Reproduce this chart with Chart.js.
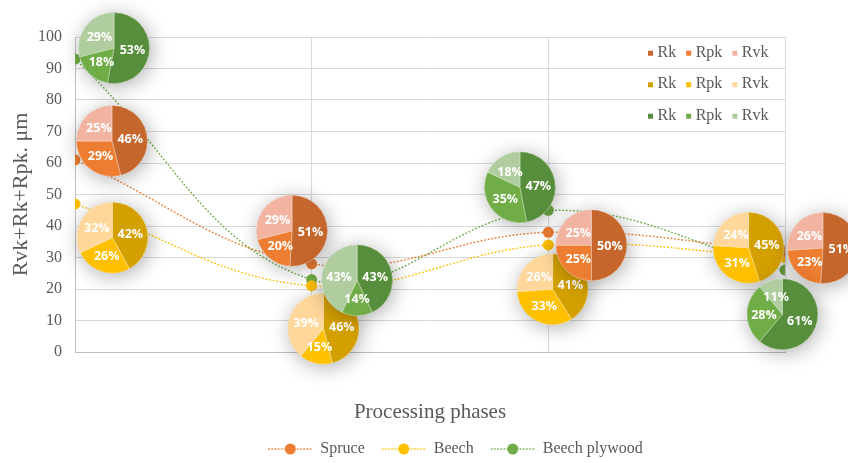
<!DOCTYPE html>
<html>
<head>
<meta charset="utf-8">
<script src="https://cdn.jsdelivr.net/npm/chart.js@4.4.0/dist/chart.umd.min.js"></script>
<style>
  html, body { margin: 0; padding: 0; background: #fff; }
</style>
</head>
<body>
<canvas id="roughnessChart" width="848" height="463"></canvas>
<script>
// Total roughness per processing phase
const phases = [0, 1, 2, 3];
const spruce = [61, 28, 38, 32];
const beech = [47, 21, 34, 30];
const plywood = [93, 23, 45, 26];

const yMin = 0;
const yMax = 100;
const yStep = 10;

// Share of each roughness component (Rk, Rpk, Rvk), % per phase
const parts = ['Rk', 'Rpk', 'Rvk'];
const sprucePies = [[46, 29, 25], [51, 20, 29], [50, 25, 25], [51, 23, 26]];
const beechPies = [[42, 26, 32], [46, 15, 39], [41, 33, 26], [45, 31, 24]];
const plywoodPies = [[53, 18, 29], [43, 14, 43], [47, 35, 18], [61, 28, 11]];

// where each pie sits, in axis units (phase, µm)
const sprucePieAt = [[0.156, 67.0], [0.917, 38.5], [2.182, 33.9], [3.160, 33.0]];
const beechPieAt = [[0.158, 36.3], [1.050, 7.4], [2.018, 19.9], [2.846, 33.1]];
const plywoodPieAt = [[0.165, 96.5], [1.192, 22.8], [1.880, 52.3], [2.989, 12.0]];

const serif = '"Liberation Serif", "Times New Roman", serif';
const textGrey = '#595959';
const pieRadius = 35.5;

const colors = {
  spruce: { line: '#ED7D31', parts: ['#C5662C', '#ED7D31', '#F2B4A0'] },
  beech: { line: '#FFC000', parts: ['#D4A000', '#FFC000', '#FFD79B'] },
  plywood: { line: '#70AD47', parts: ['#578E3B', '#70AD47', '#AFCD9F'] }
};

function toPoints(values) {
  return values.map((v, i) => ({ x: phases[i], y: v }));
}

// dotted line with a marker, used as the legend symbol
function legendSample(color) {
  const c = document.createElement('canvas');
  c.width = 44;
  c.height = 12;
  const g = c.getContext('2d');
  g.strokeStyle = color;
  g.lineWidth = 1.3;
  g.setLineDash([1.6, 1.6]);
  g.beginPath();
  g.moveTo(0, 6);
  g.lineTo(44, 6);
  g.stroke();
  g.setLineDash([]);
  g.fillStyle = color;
  g.beginPath();
  g.arc(22, 6, 5.5, 0, Math.PI * 2);
  g.fill();
  return c;
}

function seriesDataset(label, values, color) {
  return {
    label: label,
    data: toPoints(values),
    borderColor: color,
    backgroundColor: color,
    borderWidth: 1.4,
    borderDash: [1.8, 1.8],
    tension: 0.4,
    fill: false,
    pointRadius: 5.5,
    pointHoverRadius: 5.5,
    pointBorderWidth: 0,
    legendSymbol: legendSample(color)
  };
}

// beech first so spruce and plywood pies overlap it
const pieGroups = [
  { shares: beechPies, at: beechPieAt, colors: colors.beech.parts },
  { shares: sprucePies, at: sprucePieAt, colors: colors.spruce.parts },
  { shares: plywoodPies, at: plywoodPieAt, colors: colors.plywood.parts }
];

function drawPie(ctx, cx, cy, shares, fills) {
  ctx.save();
  ctx.shadowColor = 'rgba(0, 0, 0, 0.32)';
  ctx.shadowBlur = 20;
  ctx.shadowOffsetX = 2;
  ctx.shadowOffsetY = 3;
  ctx.fillStyle = fills[0];
  ctx.beginPath();
  ctx.arc(cx, cy, pieRadius, 0, Math.PI * 2);
  ctx.fill();
  ctx.restore();

  let start = -Math.PI / 2;
  const mids = [];
  shares.forEach((share, k) => {
    const end = start + share / 100 * Math.PI * 2;
    ctx.beginPath();
    ctx.moveTo(cx, cy);
    ctx.arc(cx, cy, pieRadius, start, end);
    ctx.closePath();
    ctx.fillStyle = fills[k];
    ctx.fill();
    ctx.strokeStyle = 'rgba(255, 255, 255, 0.45)';
    ctx.lineWidth = 0.8;
    ctx.stroke();
    mids.push((start + end) / 2);
    start = end;
  });

  ctx.save();
  ctx.fillStyle = '#fff';
  ctx.font = '700 12.5px "Open Sans", "Liberation Sans", sans-serif';
  ctx.textAlign = 'center';
  ctx.textBaseline = 'middle';
  shares.forEach((share, k) => {
    const lr = pieRadius * 0.52;
    ctx.fillText(share + '%', cx + Math.cos(mids[k]) * lr, cy + Math.sin(mids[k]) * lr + 1);
  });
  ctx.restore();
}

const piePlugin = {
  id: 'roughnessPies',
  afterLayout(chart) {
    // series legend sits right of the plot centre
    chart.legend.left += 63;
    chart.legend.right += 63;
  },
  afterDatasetsDraw(chart) {
    const { ctx, scales: { x, y } } = chart;
    pieGroups.forEach(group => {
      group.shares.forEach((shares, i) => {
        const cx = x.getPixelForValue(group.at[i][0]);
        const cy = y.getPixelForValue(group.at[i][1]);
        drawPie(ctx, cx, cy, shares, group.colors);
      });
    });
  },
  afterDraw(chart) {
    // component legend, one row per wood type, between the top gridlines
    const { ctx, chartArea, scales: { y } } = chart;
    const rows = [colors.spruce.parts, colors.beech.parts, colors.plywood.parts];
    ctx.save();
    ctx.font = '16px ' + serif;
    ctx.textBaseline = 'middle';
    rows.forEach((fills, r) => {
      const rowY = y.getPixelForValue(yMax - yStep / 2 - r * yStep);
      let cursor = chartArea.right - 137;
      parts.forEach((name, k) => {
        ctx.fillStyle = fills[k];
        ctx.fillRect(cursor, rowY - 2, 5, 5);
        cursor += 9.5;
        ctx.fillStyle = textGrey;
        ctx.fillText(name, cursor, rowY);
        cursor += ctx.measureText(name).width + 10;
      });
    });
    ctx.restore();
  }
};

const ctx = document.getElementById('roughnessChart').getContext('2d');

new Chart(ctx, {
  type: 'line',
  data: {
    datasets: [
      seriesDataset('Spruce', spruce, colors.spruce.line),
      seriesDataset('Beech', beech, colors.beech.line),
      seriesDataset('Beech plywood', plywood, colors.plywood.line)
    ]
  },
  options: {
    responsive: false,
    animation: false,
    events: [],
    layout: {
      padding: { left: 0, right: 63, top: 37, bottom: -4 }
    },
    plugins: {
      tooltip: { enabled: false },
      legend: {
        position: 'bottom',
        labels: {
          usePointStyle: true,
          pointStyleWidth: 44,
          padding: 17,
          color: textGrey,
          font: { family: serif, size: 16 },
          generateLabels(chart) {
            return Chart.defaults.plugins.legend.labels.generateLabels(chart).map(item => {
              item.pointStyle = chart.data.datasets[item.datasetIndex].legendSymbol;
              return item;
            });
          }
        }
      }
    },
    scales: {
      x: {
        type: 'linear',
        min: phases[0],
        max: phases[phases.length - 1],
        ticks: { display: false, stepSize: 1 },
        grid: { color: '#D9D9D9', drawTicks: false },
        border: { color: '#BFBFBF' },
        title: {
          display: true,
          text: 'Processing phases',
          color: textGrey,
          font: { family: serif, size: 21 },
          padding: { top: 0, bottom: -0.6 }
        },
        afterFit(scale) { scale.height = 72; }
      },
      y: {
        min: yMin,
        max: yMax,
        ticks: {
          stepSize: yStep,
          padding: 13,
          color: textGrey,
          font: { family: serif, size: 16 }
        },
        grid: { color: '#D9D9D9', drawTicks: false },
        border: { color: '#BFBFBF' },
        title: {
          display: true,
          text: 'Rvk+Rk+Rpk. μm',
          color: textGrey,
          font: { family: serif, size: 22 },
          padding: { top: 8, bottom: 0 }
        },
        afterFit(scale) { scale.width = 75; }
      }
    }
  },
  plugins: [piePlugin]
});
</script>
</body>
</html>
